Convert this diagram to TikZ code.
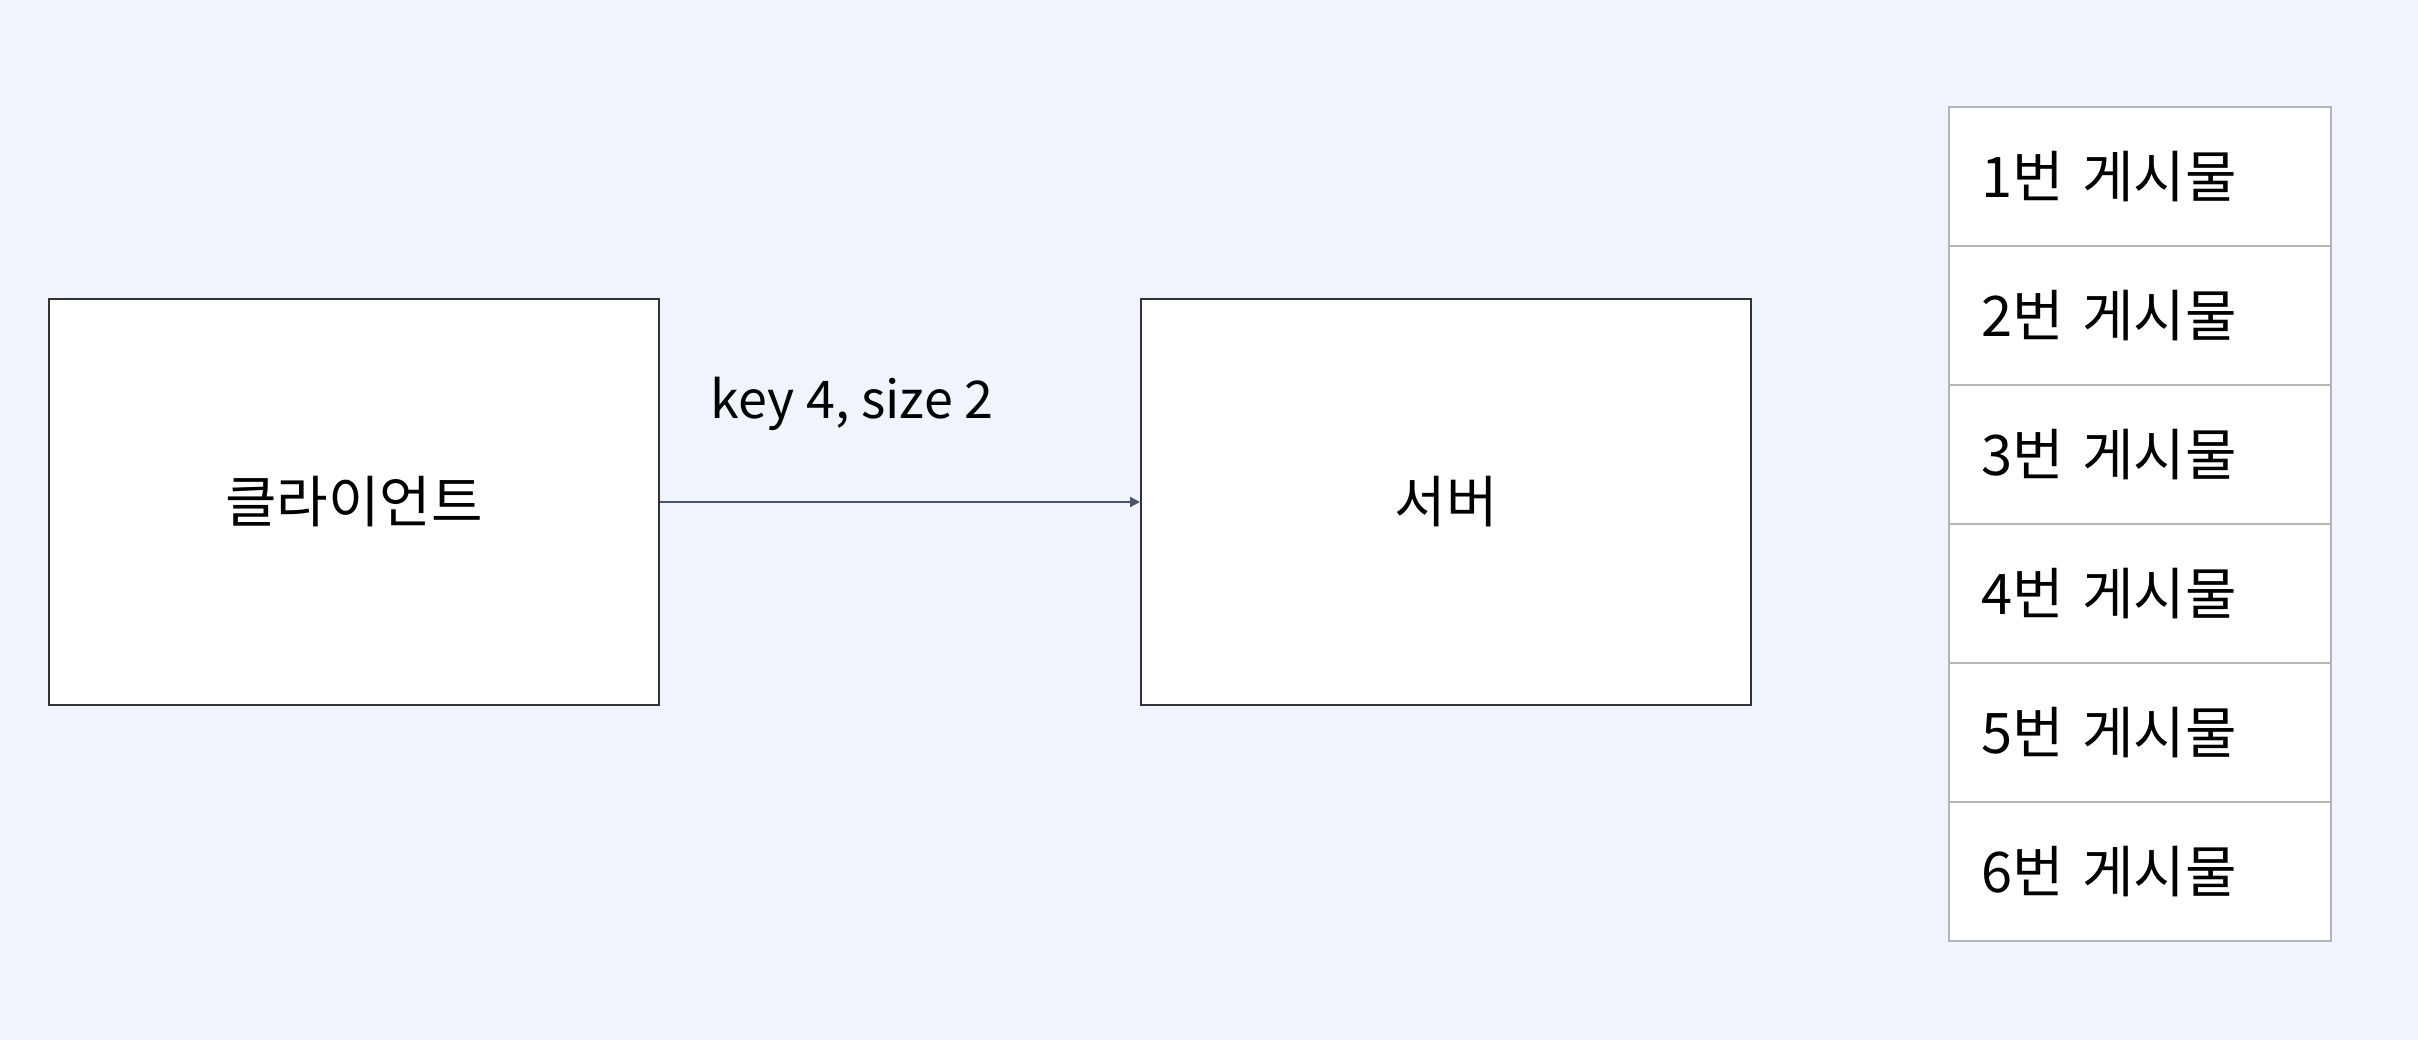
\documentclass[tikz,border=0pt]{standalone}
\usepackage{fontspec}
\setmainfont{Noto Sans CJK KR}
\usepackage{tikz}
\usetikzlibrary{arrows.meta, positioning}
\definecolor{bgblue}{HTML}{EFF4FD}
\definecolor{boxline}{HTML}{333333}
\definecolor{arrowgray}{HTML}{4A5568}
\definecolor{cellline}{HTML}{B5B5B5}

\begin{document}
\begin{tikzpicture} [
    x = 0.5pt, y = -0.5pt,
    font = \fontsize{28pt}{33pt}\selectfont,
    box/.style = {rectangle, draw=boxline, line width=1pt, fill=white,
    minimum width=305pt, minimum height=203pt, text centered},
    post/.style = {rectangle, draw=cellline, line width=1pt, fill=white,
    anchor=north west, minimum width=191pt, minimum height=69.5pt,
    text width=159pt, inner xsep=16pt, align=left},
    arrow/.style = {draw=arrowgray, line width=1pt,
    -{Triangle[length=5pt, width=5pt]}},
    node distance = 240pt
    ]
    \fill[bgblue] (0,0) rectangle (2418,1040);
    \useasboundingbox (0,0) rectangle (2418,1040);

    \node[box, anchor=north west] (client) at (48,298) {클라이언트};
    \node[box, right=of client] (server) {서버};

    \foreach \i in {1,...,6}
        \node[post] (post\i) at (1948, {106+139*(\i-1)}) {{\i}번 게시물};

    \draw[arrow] (client) -- node[pos=0.4, yshift=49pt,
    font=\fontsize{26pt}{31pt}\selectfont] {key 4, size 2} (server);

\end{tikzpicture}
\end{document}
